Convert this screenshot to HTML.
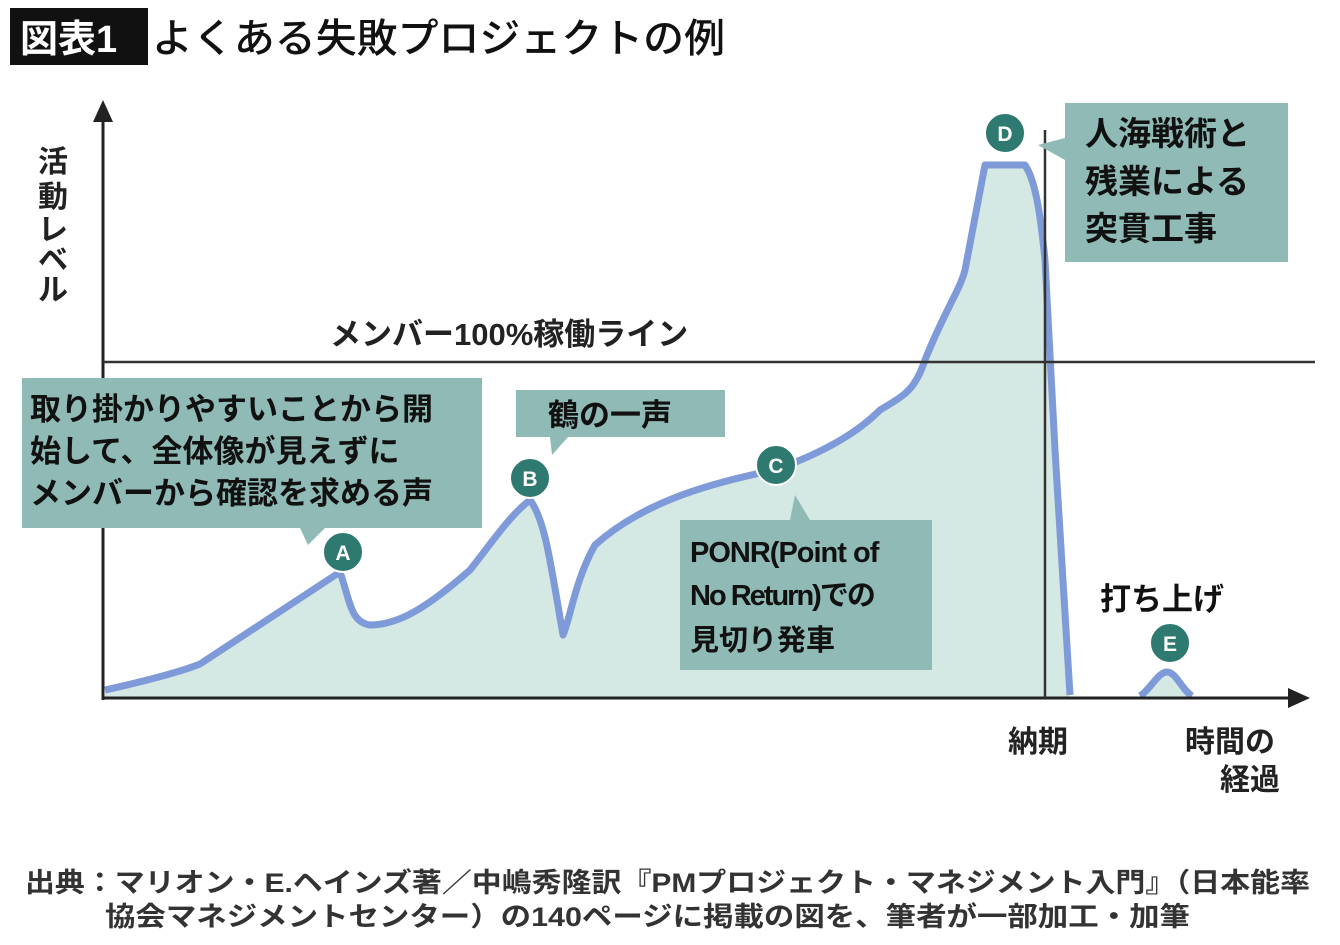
<!DOCTYPE html>
<html><head><meta charset="utf-8"><style>
body{margin:0;background:#fff;}
svg text{font-family:"Liberation Sans","Noto Sans CJK JP",sans-serif;font-weight:bold;}
</style></head><body>
<svg width="1340" height="940" viewBox="0 0 1340 940" xmlns="http://www.w3.org/2000/svg">
<rect x="10" y="8" width="138" height="57" fill="#111"/>
<text x="20" y="52" font-size="38" fill="#fff">図表1</text>
<text x="152" y="52" font-size="40" fill="#111" textLength="573" lengthAdjust="spacingAndGlyphs" style="font-weight:500">よくある失敗プロジェクトの例</text>

<path d="M105,690 C150,680 180,672 200,664 L340,572 C350,600 350,622 370,625 C400,625 430,605 470,570 C490,545 510,515 530,500 C545,520 550,560 563,635 C570,620 575,580 595,545 C640,505 700,485 775,470 C830,450 860,430 880,410 C905,395 915,390 925,360 C945,310 960,290 965,270 L985,165 L1025,165 C1035,180 1040,210 1045,260 L1055,450 L1070,690 L1070,698 L105,698 Z" fill="#d4e9e3"/>
<path d="M1140,698 C1150,690 1158,672 1167,672 C1176,672 1182,690 1192,698 Z" fill="#d4e9e3"/>
<path d="M105,690 C150,680 180,672 200,664 L340,572 C350,600 350,622 370,625 C400,625 430,605 470,570 C490,545 510,515 530,500 C545,520 550,560 563,635 C570,620 575,580 595,545 C640,505 700,485 775,470 C830,450 860,430 880,410 C905,395 915,390 925,360 C945,310 960,290 965,270 L985,165 L1025,165 C1035,180 1040,210 1045,260 L1055,450 L1070,695" fill="none" stroke="#7f9ad8" stroke-width="7" stroke-linejoin="round"/>
<path d="M1140,696 C1150,690 1158,672 1167,672 C1176,672 1182,690 1192,696" fill="none" stroke="#7f9ad8" stroke-width="7"/>

<line x1="103" y1="115" x2="103" y2="700" stroke="#222" stroke-width="3"/>
<polygon points="103,100 93,122 113,122" fill="#222"/>
<line x1="103" y1="698" x2="1295" y2="698" stroke="#222" stroke-width="3"/>
<polygon points="1310,698 1288,688 1288,708" fill="#222"/>
<line x1="103" y1="362" x2="1315" y2="362" stroke="#333" stroke-width="2.5"/>
<line x1="1045" y1="130" x2="1045" y2="698" stroke="#333" stroke-width="2.5"/>

<g font-size="30" fill="#222">
<text x="38" y="172">活</text><text x="38" y="207">動</text><text x="38" y="240">レ</text><text x="38" y="270">ベ</text><text x="38" y="300">ル</text>
</g>
<text x="330" y="345" font-size="31" fill="#222">メンバー100%稼働ライン</text>

<polygon points="22,378 482,378 482,528 325,528 308,545 300,528 22,528" fill="#8fbab5"/>
<g font-size="31" fill="#111"><text x="30" y="420">取り掛かりやすいことから開</text><text x="30" y="462">始して、全体像が見えずに</text><text x="30" y="504">メンバーから確認を求める声</text></g>

<polygon points="516,390 725,390 725,437 568,437 552,455 550,437 516,437" fill="#8fbab5"/>
<text x="548" y="426" font-size="31" fill="#111">鶴の一声</text>

<polygon points="680,520 790,520 795,495 810,520 932,520 932,670 680,670" fill="#8fbab5"/>
<g font-size="29" fill="#111"><text x="690" y="562" letter-spacing="-1">PONR(Point of</text><text x="690" y="605" letter-spacing="-2">No Return)での</text><text x="690" y="650">見切り発車</text></g>

<polygon points="1065,103 1288,103 1288,262 1065,262 1065,160 1038,145 1065,138" fill="#8fbab5"/>
<g font-size="33" fill="#111"><text x="1085" y="145">人海戦術と</text><text x="1085" y="193">残業による</text><text x="1085" y="240">突貫工事</text></g>

<g fill="#2e7a70" stroke="#fff" stroke-width="2">
<circle cx="343" cy="552" r="20"/><circle cx="530" cy="478" r="20"/><circle cx="776" cy="465" r="20"/><circle cx="1005" cy="133" r="20"/><circle cx="1170" cy="643" r="20"/>
</g>
<g font-size="21" fill="#fff" text-anchor="middle">
<text x="343" y="560">A</text><text x="530" y="486">B</text><text x="776" y="473">C</text><text x="1005" y="141">D</text><text x="1170" y="651">E</text>
</g>
<text x="1100" y="610" font-size="31" fill="#111">打ち上げ</text>
<text x="1008" y="752" font-size="30" fill="#222">納期</text>
<text x="1185" y="752" font-size="30" fill="#222">時間の</text>
<text x="1220" y="790" font-size="30" fill="#222">経過</text>

<g font-size="27" fill="#333">
<text x="25" y="892" textLength="1285" lengthAdjust="spacingAndGlyphs">出典：マリオン・E.ヘインズ著／中嶋秀隆訳『PMプロジェクト・マネジメント入門』（日本能率</text>
<text x="105" y="926" textLength="1085" lengthAdjust="spacingAndGlyphs">協会マネジメントセンター）の140ページに掲載の図を、筆者が一部加工・加筆</text>
</g>
</svg>
</body></html>
